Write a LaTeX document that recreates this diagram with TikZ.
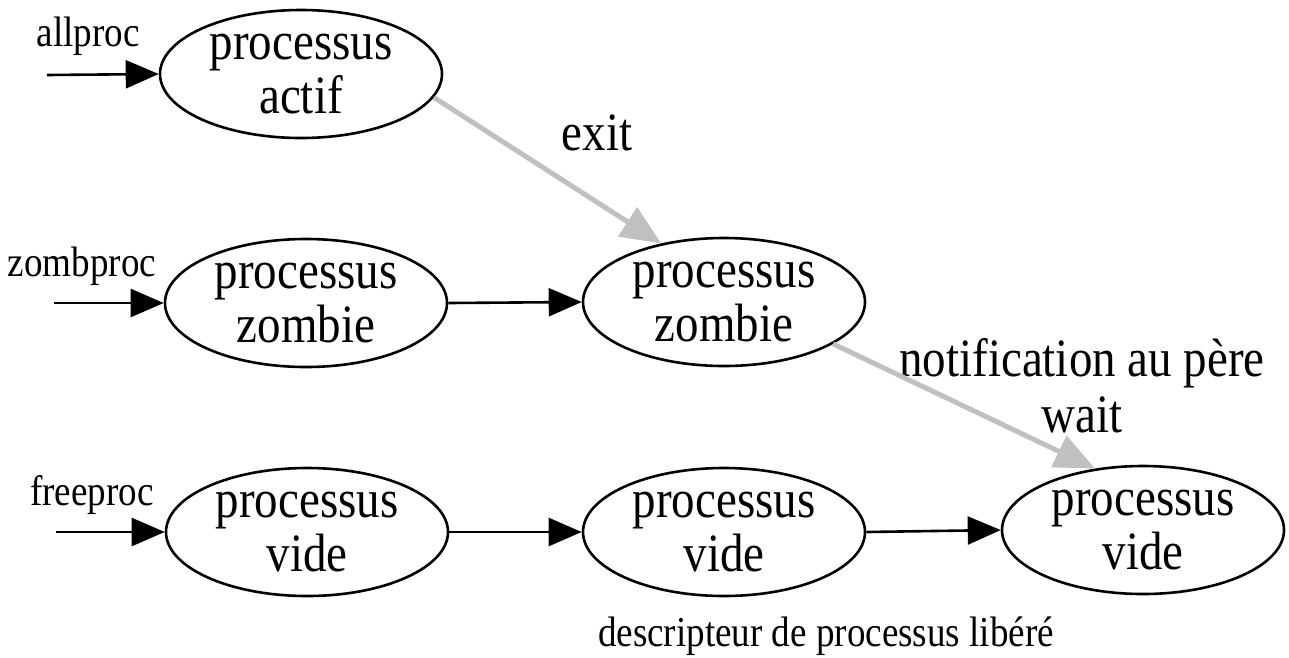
\documentclass[tikz,border=0pt]{standalone}
\usepackage{fontspec}
\setmainfont{Liberation Serif}[FakeStretch=0.87]
\usetikzlibrary{shapes.geometric,arrows.meta}
\definecolor{arrgray}{HTML}{C0C0C0}
\begin{document}
\begin{tikzpicture}[x=1pt,y=-1pt,
  proc/.style={ellipse, draw=black, line width=2.6pt, minimum width=282pt, minimum height=128pt, inner sep=0pt},
  ptext/.style={align=center, font=\fontsize{54}{54}\selectfont, inner sep=0pt},
  small/.style={font=\fontsize{42.6}{46}\selectfont, inner sep=0pt},
  big/.style={align=center, font=\fontsize{54}{56}\selectfont, inner sep=0pt},
  blk/.style={draw=black, line width=2.6pt, -{Triangle[length=33pt,width=28pt]}},
  gry/.style={draw=arrgray, line width=5pt, -{Triangle[length=40pt,width=34pt]}}]
\useasboundingbox (0,0) rectangle (1289,657);
% ellipses
\node[proc] (A) at (301,74) {};
\node[ptext] (At) at (A) {processus\\actif};
\node[proc] (B) at (306,303) {};
\node[ptext] (Bt) at (B) {processus\\zombie};
\node[proc] (C) at (724,302) {};
\node[ptext] (Ct) at (C) {processus\\zombie};
\node[proc] (D) at (307,532) {};
\node[ptext] (Dt) at (D) {processus\\vide};
\node[proc] (E) at (724,532) {};
\node[ptext] (Et) at (E) {processus\\vide};
\node[proc] (F) at (1143,530) {};
\node[ptext] (Ft) at (F) {processus\\vide};
% labels
\node[small] (la) at (88,36) {allproc};
\node[small] (lz) at (82,266) {zombproc};
\node[small] (lf) at (92,495) {freeproc};
\node[big] (lexit) at (597,133) {exit};
\node[big] (lnot) at (1082,386) {notification au père\\wait};
\node[small] (ldesc) at (826,636) {descripteur de processus libéré};
% entry arrows
\coordinate (sa) at (47,75);
\coordinate (sz) at (54,303);
\coordinate (sf) at (56,532);
\draw[blk] (sa) -- (A.west);
\draw[blk] (sz) -- (B.west);
\draw[blk] (sf) -- (D.west);
% horizontal arrows
\draw[blk] (B.east) -- (C.west);
\draw[blk] (D.east) -- (E.west);
\draw[blk] (E.east) -- (F.west);
% gray arrows
\draw[gry] (A.-10) -- (C.137);
\draw[gry] (C.-21) -- (F.128);
\end{tikzpicture}
\end{document}
